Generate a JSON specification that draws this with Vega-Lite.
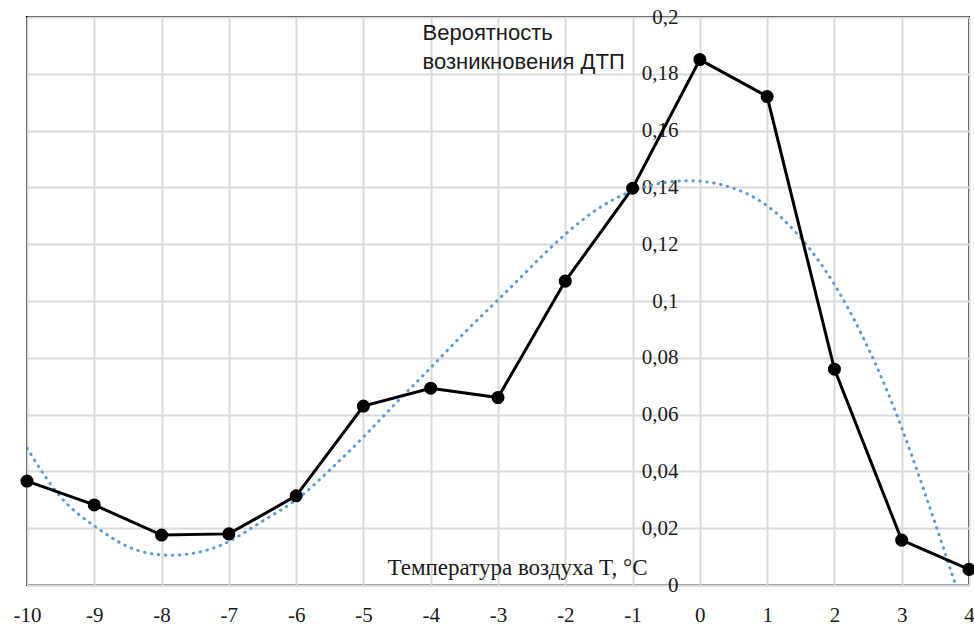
{
  "$schema": "https://vega.github.io/schema/vega-lite/v6.json",
  "width": 942,
  "height": 568,
  "autosize": {"type": "none"},
  "padding": {"left": 27, "top": 17, "right": 5, "bottom": 43},
  "background": "white",
  "config": {
    "view": {"stroke": "black", "strokeWidth": 2},
    "axis": {
      "gridColor": "#d9d9d9",
      "gridWidth": 2,
      "ticks": false,
      "titleFontWeight": "normal",
      "titleColor": "#1a1a1a"
    }
  },
  "datasets": {
    "obs": [
      {"t": -10, "p": 0.0366},
      {"t": -9, "p": 0.0282},
      {"t": -8, "p": 0.0176},
      {"t": -7, "p": 0.018},
      {"t": -6, "p": 0.0314},
      {"t": -5, "p": 0.063},
      {"t": -4, "p": 0.0693},
      {"t": -3, "p": 0.066},
      {"t": -2, "p": 0.107},
      {"t": -1, "p": 0.1397},
      {"t": 0, "p": 0.185},
      {"t": 1, "p": 0.172},
      {"t": 2, "p": 0.076},
      {"t": 3, "p": 0.0158},
      {"t": 4, "p": 0.0055}
    ],
    "trend": [
      {"t": -10, "p": 0.0482},
      {"t": -9.5, "p": 0.031},
      {"t": -9, "p": 0.0208},
      {"t": -8.5, "p": 0.0135},
      {"t": -8, "p": 0.0106},
      {"t": -7.5, "p": 0.0113},
      {"t": -7, "p": 0.0153},
      {"t": -6.5, "p": 0.0225},
      {"t": -6, "p": 0.030},
      {"t": -5.5, "p": 0.0405},
      {"t": -5, "p": 0.0521},
      {"t": -4.5, "p": 0.0645},
      {"t": -4, "p": 0.0765},
      {"t": -3.5, "p": 0.0888},
      {"t": -3, "p": 0.1004},
      {"t": -2.5, "p": 0.1122},
      {"t": -2, "p": 0.1235},
      {"t": -1.5, "p": 0.1327},
      {"t": -1, "p": 0.1388},
      {"t": -0.5, "p": 0.1418},
      {"t": 0, "p": 0.1422},
      {"t": 0.5, "p": 0.1397},
      {"t": 1, "p": 0.1335},
      {"t": 1.5, "p": 0.1222},
      {"t": 2, "p": 0.1058},
      {"t": 2.5, "p": 0.0835},
      {"t": 3, "p": 0.0553},
      {"t": 3.5, "p": 0.0215},
      {"t": 3.8, "p": 0}
    ]
  },
  "encoding": {
    "x": {
      "field": "t",
      "type": "quantitative",
      "scale": {"domain": [-10, 4], "nice": false, "zero": false},
      "axis": {
        "values": [-10, -9, -8, -7, -6, -5, -4, -3, -2, -1, 0, 1, 2, 3, 4],
        "labelExpr": "'' + datum.value",
        "labelFont": "Liberation Serif",
        "labelFontSize": 21,
        "labelColor": "#1a1a1a",
        "labelPadding": 19,
        "labelFlush": false,
        "labelOverlap": false,
        "labelBound": false,
        "domainColor": "#d9d9d9",
        "domainWidth": 2,
        "title": "Температура воздуха T, °C",
        "titleFont": "Liberation Serif",
        "titleFontSize": 23,
        "titleAlign": "right",
        "titleBaseline": "alphabetic",
        "titleX": 620,
        "titleY": -11
      }
    },
    "y": {
      "field": "p",
      "type": "quantitative",
      "scale": {"domain": [0, 0.2], "nice": false},
      "axis": {
        "values": [0, 0.02, 0.04, 0.06, 0.08, 0.1, 0.12, 0.14, 0.16, 0.18, 0.2],
        "labelExpr": "replace(format(datum.value, '.2~f'), '.', ',')",
        "labelFont": "Liberation Serif",
        "labelFontSize": 21,
        "labelColor": "#1a1a1a",
        "labelFlush": false,
        "labelOverlap": false,
        "offset": -673,
        "domain": false,
        "labelPadding": 22,
        "title": ["Вероятность", "возникновения ДТП"],
        "titleFont": "Liberation Sans",
        "titleFontSize": 22,
        "titleAngle": 0,
        "titleAlign": "left",
        "titleBaseline": "alphabetic",
        "titleLineHeight": 29,
        "titleX": -278,
        "titleY": 22
      }
    }
  },
  "layer": [
    {
      "data": {"name": "trend"},
      "mark": {"type": "line", "color": "#5b9bd5", "strokeWidth": 3, "strokeDash": [0.5, 6.5], "strokeCap": "round", "interpolate": "natural", "clip": true}
    },
    {
      "data": {"name": "obs"},
      "mark": {"type": "line", "color": "black", "strokeWidth": 3}
    },
    {
      "data": {"name": "obs"},
      "mark": {"type": "point", "filled": true, "color": "black", "size": 170, "opacity": 1}
    }
  ]
}
